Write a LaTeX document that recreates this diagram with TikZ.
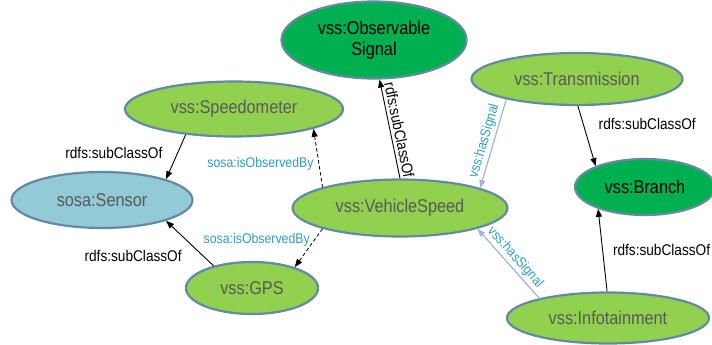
\documentclass[tikz,border=0pt]{standalone}
\usepackage{fontspec}
\setmainfont{Liberation Sans}[FakeStretch=0.88]
\usetikzlibrary{shapes.geometric,arrows.meta}
\definecolor{lightgr}{RGB}{146,208,80}
\definecolor{darkgr}{RGB}{0,176,80}
\definecolor{sensorbl}{RGB}{146,202,214}
\definecolor{rimcol}{RGB}{98,138,162}
\definecolor{txtgrey}{RGB}{89,89,89}
\definecolor{tealtxt}{RGB}{45,158,188}
\definecolor{signalln}{RGB}{163,179,214}
\begin{document}
\begin{tikzpicture}[x=1pt, y=-1pt,
    class/.style={ellipse, draw=rimcol, line width=2.2pt, inner sep=0pt, align=center, font=\fontsize{18.5}{21.5}\selectfont},
    sub/.style={-{Triangle[length=8pt,width=6pt]}, line width=0.9pt, black},
    obsby/.style={-{Triangle[length=8pt,width=6pt]}, line width=0.8pt, black, dashed, dash pattern=on 3.5pt off 2.5pt},
    sig/.style={-{Triangle[length=8pt,width=6pt]}, line width=1.2pt, signalln},
    sublbl/.style={font=\fontsize{15.5}{18}\selectfont, text=black, inner sep=1pt},
    rellbl/.style={font=\fontsize{14}{16}\selectfont, text=tealtxt, inner sep=1pt}
]
    \useasboundingbox (0,0) rectangle (712,345);

    % Classes
    \node[class, fill=darkgr, text=black, minimum width=185pt, minimum height=77pt] (obs) at (374,40) {vss:Observable\\Signal};
    \node[class, fill=lightgr, text=txtgrey, minimum width=218pt, minimum height=55pt] (speedo) at (234,109) {vss:Speedometer};
    \node[class, fill=sensorbl, text=txtgrey, minimum width=181pt, minimum height=56pt] (sensor) at (102,200) {sosa:Sensor};
    \node[class, fill=lightgr, text=txtgrey, minimum width=215pt, minimum height=57pt] (vspeed) at (400,208) {vss:VehicleSpeed};
    \node[class, fill=lightgr, text=txtgrey, minimum width=132pt, minimum height=52pt] (gps) at (252,288) {vss:GPS};
    \node[class, fill=lightgr, text=txtgrey, minimum width=211pt, minimum height=52pt] (trans) at (577,79) {vss:Transmission};
    \node[class, fill=darkgr, text=black, minimum width=140pt, minimum height=56pt] (branch) at (645,187) {vss:Branch};
    \node[class, fill=lightgr, text=txtgrey, minimum width=202pt, minimum height=51pt] (info) at (608,318) {vss:Infotainment};

    % Sensor side
    \draw[sub] (speedo.208) -- node[pos=0.4, left=14pt, sublbl] {rdfs:subClassOf} (sensor.18);
    \draw[sub] (gps.150) -- node[pos=0.22, left=20pt, sublbl] {rdfs:subClassOf} (sensor.-18);
    \draw[obsby] (vspeed.165) -- node[pos=0.4, left=4pt, rellbl] {sosa:isObservedBy} (speedo.-14);
    \draw[obsby] (vspeed.195) -- node[pos=0.3, left=3pt, rellbl] {sosa:isObservedBy} (gps.26);

    % Signal side
    \draw[sub] (vspeed.90) -- node[pos=0.47, sloped, above=2pt, sublbl] {rdfs:subClassOf} (obs.-82);
    \draw[sig] (trans.196) -- node[midway, sloped, above=1pt, rellbl] {vss:hasSignal} (vspeed.14);
    \draw[sig] (info.164) -- node[midway, sloped, above=1pt, rellbl] {vss:hasSignal} (vspeed.-15);

    % Branch
    \draw[sub] (trans.-88) -- node[pos=0.3, right=14pt, sublbl] {rdfs:subClassOf} (branch.157);
    \draw[sub] (info.92) -- node[pos=0.5, right=9pt, sublbl] {rdfs:subClassOf} (branch.-155);
\end{tikzpicture}
\end{document}
